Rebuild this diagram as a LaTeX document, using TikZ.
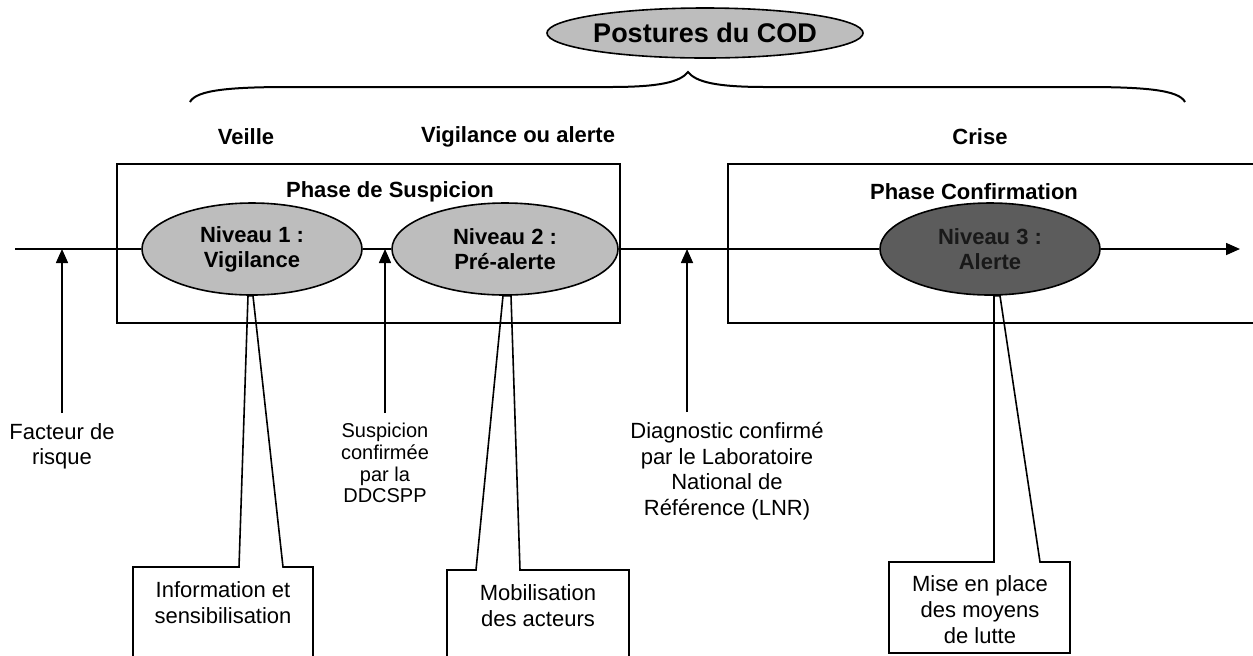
\documentclass[tikz,border=0pt]{standalone}
\usepackage{fontspec}
\setmainfont{Liberation Sans}
\usetikzlibrary{arrows.meta, positioning, shapes.geometric}

\definecolor{levelgray}{gray}{0.74}
\definecolor{alertgray}{gray}{0.36}

\begin{document}
\begin{tikzpicture}[
		x=0.5pt, y=-0.5pt,
		level/.style={
			ellipse,
			draw=black,
			line width=0.8pt,
			fill=levelgray,
			inner sep=0pt,
			minimum width=110pt,
			minimum height=46pt,
			align=center,
			font=\bfseries\fontsize{11}{12.5}\selectfont
		},
		phase/.style={
			rectangle,
			draw=black,
			line width=0.9pt
		},
		heading/.style={
			font=\bfseries\fontsize{11}{13}\selectfont
		},
		event/.style={
			align=center,
			anchor=north,
			inner xsep=1pt,
			inner ysep=5pt,
			font=\fontsize{11}{12.8}\selectfont
		},
		note/.style={
			align=center,
			font=\fontsize{11}{13}\selectfont
		},
		callout/.style={
			draw=black,
			line width=0.8pt
		},
		arrow/.style={
			line width=0.8pt,
			-{Triangle[length=7pt,width=6pt]}
		}
	]

	\useasboundingbox (0,0) rectangle (1253,655);
	\clip (0,0) rectangle (1253,655);

	% postures and the brace under them
	\node[level, minimum width=155pt, minimum height=25pt, font=\bfseries\fontsize{13.5}{15}\selectfont] (cod) at (705,33) {Postures du COD};
	\draw[line width=1pt] (190,102) .. controls (196,90) and (230,87) .. (290,87) -- (610,87) .. controls (660,87) and (680,82) .. (688,72) .. controls (696,82) and (716,87) .. (766,87) -- (1085,87) .. controls (1145,87) and (1179,90) .. (1185,102);

	\node[heading] (veille) at (246,137) {Veille};
	\node[heading] (vigil) at (518,137) {Vigilance ou alerte};
	\node[heading] (crise) at (980,137) {Crise};

	% phases
	\node[phase, minimum width=251.5pt, minimum height=79.5pt] (suspicion) at (368.5,243.5) {};
	\node[phase, minimum width=276pt, minimum height=79.5pt] (confirm) at (1004,243.5) {};
	\node[heading] (suspiciontitle) at (390,192) {Phase de Suspicion};
	\node[heading] (confirmtitle) at (974,192) {Phase Confirmation};

	% levels
	\node[level] (n1) at (252,249) {Niveau 1 :\\Vigilance};
	\node[level, minimum width=113pt] (n2) at (505,249) {Niveau 2 :\\Pré-alerte};
	\node[level, fill=alertgray, text=black!90] (n3) at (990,249) {Niveau 3 :\\Alerte};

	% timeline
	\coordinate (start) at (15,249);
	\coordinate (end) at (1240,249);
	\draw[line width=0.8pt] (start) -- (n1) (n1) -- (n2) (n2) -- (n3);
	\draw[arrow] (n3) -- (end);

	% triggers
	\coordinate (t1) at (62,249);
	\coordinate (t2) at (385,249);
	\coordinate (t3) at (687,249);
	\node[event] (risk) at (62,413) {Facteur de\\risque};
	\node[event, font=\fontsize{10}{10.8}\selectfont] (ddcspp) at (385,413) {Suspicion\\confirmée\\par la\\DDCSPP};
	\node[event] (lnr) at (727,412) {Diagnostic confirmé\\par le Laboratoire\\National de\\Référence (LNR)};
	\draw[arrow] (risk) -- (t1);
	\draw[arrow] (ddcspp) -- (t2);
	\draw[arrow] (lnr.north -| t3) -- (t3);

	% actions
	\draw[callout] (133,680) -- (133,567) -- (239,567) -- ([xshift=-2pt]n1.south) -- ([xshift=0.5pt]n1.south) -- (283,567) -- (313,567) -- (313,680);
	\node[note] (info) at (223,603) {Information et\\sensibilisation};

	\draw[callout] (447,680) -- (447,570) -- (476,570) -- ([xshift=-1pt]n2.south) -- ([xshift=3pt]n2.south) -- (520,570) -- (629,570) -- (629,680);
	\node[note] (mobil) at (538,606) {Mobilisation\\des acteurs};

	\draw[callout] (889,562) -- (994,562) -- ([xshift=2pt]n3.south) -- ([xshift=5pt]n3.south) -- (1040,562) -- (1070,562) -- (1070,653) -- (889,653) -- cycle;
	\node[note] (lutte) at (980,610) {Mise en place\\des moyens\\de lutte};

\end{tikzpicture}
\end{document}
